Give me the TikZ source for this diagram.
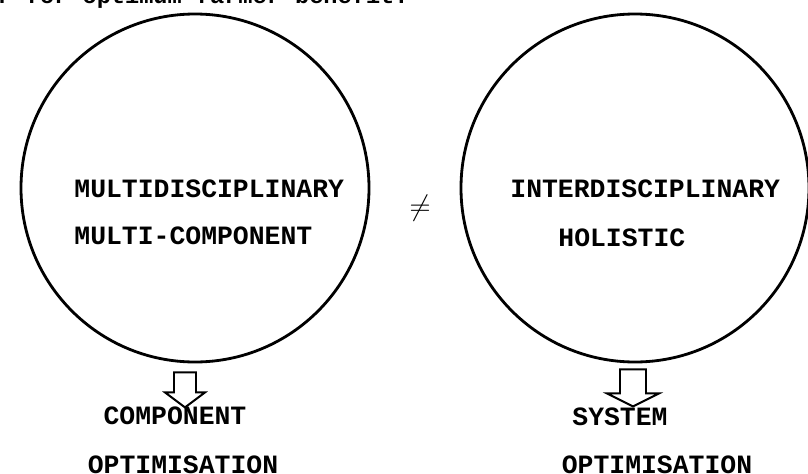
\documentclass[tikz,border=0pt]{standalone}
\usepackage{fontspec}
\newfontfamily\typewr{Liberation Mono}
\usetikzlibrary{calc}

\begin{document}
\begin{tikzpicture}[x=0.25mm,y=-0.25mm,line width=2pt,
  bigc/.style={circle,draw,minimum size=87mm,inner sep=0pt},
  tw/.style={font=\typewr\bfseries\fontsize{18.8}{20}\selectfont,inner sep=0pt},
  blockarr/.style={line width=1.4pt,line join=miter}]
  \useasboundingbox (0,0) rectangle (808,474);
  % line of text above, cut by the page edge
  \node[font=\typewr\bfseries\fontsize{16.8}{18}\selectfont,inner sep=0pt,anchor=base east] (topline) at (410,3) {r for optimum farmer benefit.};
  % the two circles
  \node[bigc] (lc) at (195,188) {};
  \node[bigc] (rc) at (635,188) {};
  % words inside
  \node[tw,anchor=base west] (multi) at (73,197.5) {MULTIDISCIPLINARY};
  \node[tw,anchor=base west] (multicomp) at (73,244.5) {MULTI-COMPONENT};
  \node[tw,anchor=base west] (inter) at (509,197.5) {INTERDISCIPLINARY};
  \node[tw,anchor=base west] (holist) at (557,246.5) {HOLISTIC};
  % not equal sign between them
  \node[font=\fontsize{22}{24}\selectfont,inner sep=0pt] (neq) at (420,208) {$\neq$};
  % labels below
  \node[tw] (comp) at (175,416) {COMPONENT};
  \node[tw] (optl) at (183,465) {OPTIMISATION};
  \node[tw] (sys) at (620,417) {SYSTEM};
  \node[tw] (optr) at (657,465) {OPTIMISATION};
  % hollow arrows out of the circles
  \coordinate (la) at ($(lc.south)+(-10,9)$);
  \coordinate (ra) at ($(rc.south)+(-2,6)$);
  \draw[blockarr] (la) ++(-11,0) -- ++(0,20) -- ++(-9,0) -- ++(20,15) -- ++(20,-15) -- ++(-9,0) -- ++(0,-20) -- cycle;
  \draw[blockarr] (ra) ++(-13,0) -- ++(0,24) -- ++(-13,0) -- ++(26,13) -- ++(26,-13) -- ++(-13,0) -- ++(0,-24) -- cycle;
\end{tikzpicture}
\end{document}
